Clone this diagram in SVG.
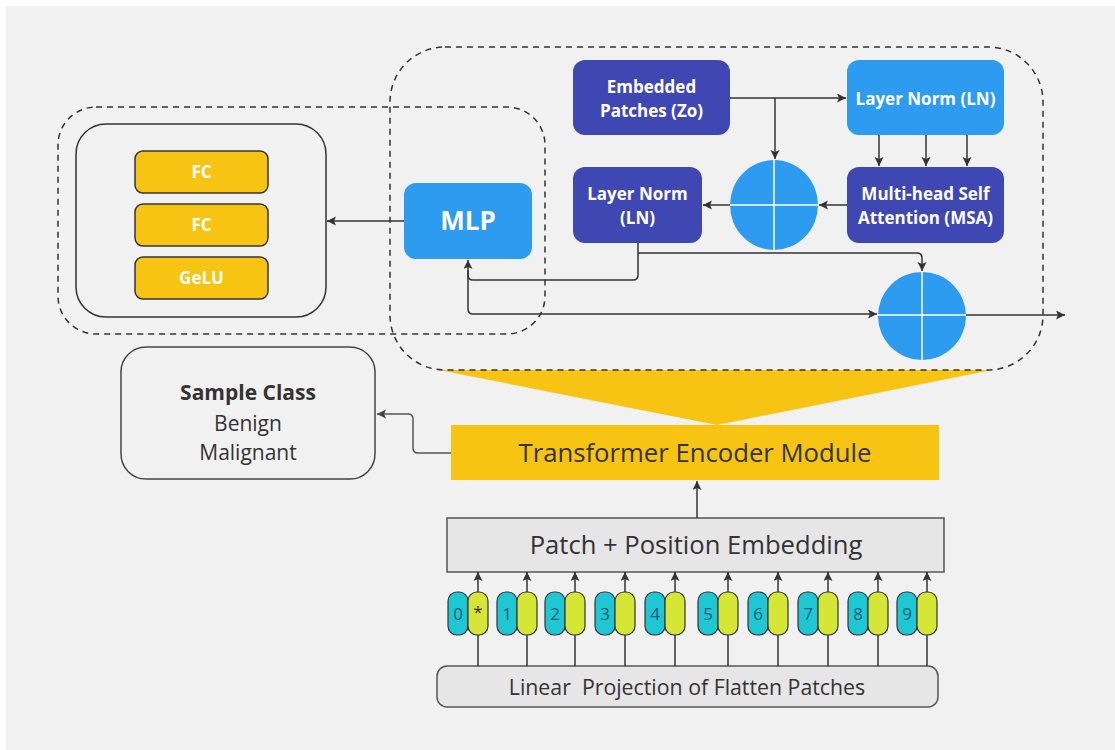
<svg xmlns="http://www.w3.org/2000/svg" width="1115" height="750" viewBox="0 0 1115 750">
<defs>
<marker id="ah" markerUnits="userSpaceOnUse" markerWidth="10" markerHeight="10" refX="9" refY="4.5" orient="auto">
<path d="M0,0 L9,4.5 L0,9 L2,4.5 z" fill="#333"/>
</marker>
<marker id="ah2" markerUnits="userSpaceOnUse" markerWidth="10" markerHeight="10" refX="9" refY="4.5" orient="auto">
<path d="M0,0 L9,4.5 L0,9 L2,4.5 z" fill="#444"/>
</marker>
</defs>
<style>
.dash{fill:none;stroke:#333;stroke-width:1.5;stroke-dasharray:6 5}
.ind{fill:#3f47b3}
.blu{fill:#2c9bf0}
.yel{fill:#f8c414}
.wt{font-family:"Open Sans","Liberation Sans",sans-serif;font-weight:bold;fill:#fff;text-anchor:middle}
.dk{font-family:"Open Sans","Liberation Sans",sans-serif;fill:#333;text-anchor:middle}
.ln{fill:none;stroke:#333;stroke-width:1.5}
.cross{stroke:#fff;stroke-width:1.5}
.cy{fill:#1fc6d3;stroke:#333;stroke-width:1.2}
.li{fill:#d5e637;stroke:#333;stroke-width:1.2}
.dg{font-family:"Open Sans","Liberation Sans",sans-serif;font-size:17px;fill:#1d5f72;text-anchor:middle}
</style>
<rect x="0" y="0" width="1115" height="750" fill="#fff"/>
<rect x="6" y="6" width="1109" height="744" fill="#f1f1f1"/>

<g id="encoder-detail-region">
<polygon points="439,370 992,370 717,425" class="yel"/>
<rect x="390" y="47" width="653" height="323" rx="55" class="dash"/>
</g>
<g id="mlp-region">
<rect x="58" y="107" width="487" height="227" rx="38" class="dash"/>
</g>

<g id="mlp-detail">
<rect x="76" y="124" width="250" height="193" rx="30" fill="none" stroke="#333" stroke-width="1.5"/>
</g>
<g id="fc1">
<rect x="135" y="151" width="133" height="42" rx="8" class="yel" stroke="#333" stroke-width="1.5"/>
<text x="201.5" y="178" class="wt" font-size="17">FC</text>
</g>
<g id="fc2">
<rect x="135" y="204" width="133" height="42" rx="8" class="yel" stroke="#333" stroke-width="1.5"/>
<text x="201.5" y="231" class="wt" font-size="17">FC</text>
</g>
<g id="gelu">
<rect x="135" y="257" width="133" height="42" rx="8" class="yel" stroke="#333" stroke-width="1.5"/>
<text x="201.5" y="284" class="wt" font-size="17">GeLU</text>
</g>

<g id="mlp">
<rect x="404" y="183" width="128" height="76" rx="12" class="blu"/>
<text x="468" y="230" class="wt" font-size="26">MLP</text>
</g>
<g id="embedded-patches">
<rect x="573" y="60" width="157" height="75" rx="12" class="ind"/>
<text x="651.5" y="93" class="wt" font-size="17">Embedded</text>
<text x="651.5" y="117" class="wt" font-size="17">Patches (Zo)</text>
</g>
<g id="layer-norm-top">
<rect x="847" y="60" width="157" height="75" rx="12" class="blu"/>
<text x="925.5" y="105" class="wt" font-size="17">Layer Norm (LN)</text>
</g>
<g id="msa">
<rect x="847" y="167" width="157" height="76" rx="12" class="ind"/>
<text x="925.5" y="200" class="wt" font-size="17">Multi-head Self</text>
<text x="925.5" y="224" class="wt" font-size="17">Attention (MSA)</text>
</g>
<g id="layer-norm-left">
<rect x="573" y="167" width="129" height="76" rx="12" class="ind"/>
<text x="637.5" y="200" class="wt" font-size="17">Layer Norm</text>
<text x="637.5" y="224" class="wt" font-size="17">(LN)</text>
</g>
<g id="add1">
<ellipse cx="774" cy="205" rx="44" ry="45" class="blu"/>
<line x1="774" y1="160" x2="774" y2="250" class="cross"/>
<line x1="730" y1="205" x2="818" y2="205" class="cross"/>
</g>
<g id="add2">
<ellipse cx="922" cy="316" rx="44" ry="44" class="blu"/>
<line x1="922" y1="272" x2="922" y2="360" class="cross"/>
<line x1="878" y1="315" x2="966" y2="315" class="cross"/>
</g>

<g id="sample-class">
<rect x="121" y="347" width="254" height="132" rx="25" fill="none" stroke="#444" stroke-width="1.5"/>
<text x="248" y="400" class="dk" font-size="21" font-weight="bold">Sample Class</text>
<text x="248" y="431" class="dk" font-size="21">Benign</text>
<text x="248" y="460" class="dk" font-size="21">Malignant</text>
</g>
<g id="transformer-encoder">
<rect x="451" y="425" width="488" height="55" class="yel"/>
<text x="695" y="462" class="dk" font-size="25.7">Transformer Encoder Module</text>
</g>
<g id="patch-position">
<rect x="447" y="518" width="497" height="54" fill="#e6e6e6" stroke="#555" stroke-width="1.5"/>
<text x="696" y="554" class="dk" font-size="25.6">Patch + Position Embedding</text>
</g>
<g id="linear-projection">
<rect x="437" y="666" width="501" height="41" rx="10" fill="#e6e6e6" stroke="#555" stroke-width="1.5"/>
<text x="687" y="695" class="dk" font-size="21.3" xml:space="preserve">Linear  Projection of Flatten Patches</text>
</g>

<g id="connectors">
<path d="M730,98 H846" class="ln" marker-end="url(#ah)"/>
<path d="M775,98 V159" class="ln" marker-end="url(#ah)"/>
<path d="M879,135 V166" class="ln" marker-end="url(#ah)"/>
<path d="M926,135 V166" class="ln" marker-end="url(#ah)"/>
<path d="M967,135 V166" class="ln" marker-end="url(#ah)"/>
<path d="M847,205 H819" class="ln" marker-end="url(#ah)"/>
<path d="M730,205 H703" class="ln" marker-end="url(#ah)"/>
<path d="M638,243 V275 Q638,280 633,280 H473 Q468,280 468,275 V260" class="ln" marker-end="url(#ah)"/>
<path d="M638,253 H917 Q922,253 922,258 V271" class="ln" marker-end="url(#ah)"/>
<path d="M468,270 V309 Q468,314 473,314 H877" class="ln" marker-end="url(#ah)"/>
<path d="M966,315 H1065" class="ln" marker-end="url(#ah)"/>
<path d="M404,221 H327" class="ln" marker-end="url(#ah)"/>
<path d="M451,453 H418 Q413,453 413,448 V419 Q413,414 408,414 H377" fill="none" stroke="#555" stroke-width="1.5" marker-end="url(#ah2)"/>
<path d="M697,518 V481" class="ln" marker-end="url(#ah)"/>
<path d="M478,666 V572" class="ln" marker-end="url(#ah)"/>
<path d="M527,666 V572" class="ln" marker-end="url(#ah)"/>
<path d="M575,666 V572" class="ln" marker-end="url(#ah)"/>
<path d="M625,666 V572" class="ln" marker-end="url(#ah)"/>
<path d="M675,666 V572" class="ln" marker-end="url(#ah)"/>
<path d="M728,666 V572" class="ln" marker-end="url(#ah)"/>
<path d="M778,666 V572" class="ln" marker-end="url(#ah)"/>
<path d="M828,666 V572" class="ln" marker-end="url(#ah)"/>
<path d="M878,666 V572" class="ln" marker-end="url(#ah)"/>
<path d="M927,666 V572" class="ln" marker-end="url(#ah)"/>
</g>

<g id="token-0"><rect x="448" y="592" width="20" height="43" rx="9" class="cy"/><rect x="468" y="592" width="20" height="43" rx="9" class="li"/><text x="458" y="620" class="dg">0</text><text x="478" y="618" class="dg" style="fill:#333">*</text></g>
<g id="token-1"><rect x="497" y="592" width="20" height="43" rx="9" class="cy"/><rect x="517" y="592" width="20" height="43" rx="9" class="li"/><text x="507" y="620" class="dg">1</text></g>
<g id="token-2"><rect x="545" y="592" width="20" height="43" rx="9" class="cy"/><rect x="565" y="592" width="20" height="43" rx="9" class="li"/><text x="555" y="620" class="dg">2</text></g>
<g id="token-3"><rect x="595" y="592" width="20" height="43" rx="9" class="cy"/><rect x="615" y="592" width="20" height="43" rx="9" class="li"/><text x="605" y="620" class="dg">3</text></g>
<g id="token-4"><rect x="645" y="592" width="20" height="43" rx="9" class="cy"/><rect x="665" y="592" width="20" height="43" rx="9" class="li"/><text x="655" y="620" class="dg">4</text></g>
<g id="token-5"><rect x="698" y="592" width="20" height="43" rx="9" class="cy"/><rect x="718" y="592" width="20" height="43" rx="9" class="li"/><text x="708" y="620" class="dg">5</text></g>
<g id="token-6"><rect x="748" y="592" width="20" height="43" rx="9" class="cy"/><rect x="768" y="592" width="20" height="43" rx="9" class="li"/><text x="758" y="620" class="dg">6</text></g>
<g id="token-7"><rect x="798" y="592" width="20" height="43" rx="9" class="cy"/><rect x="818" y="592" width="20" height="43" rx="9" class="li"/><text x="808" y="620" class="dg">7</text></g>
<g id="token-8"><rect x="848" y="592" width="20" height="43" rx="9" class="cy"/><rect x="868" y="592" width="20" height="43" rx="9" class="li"/><text x="858" y="620" class="dg">8</text></g>
<g id="token-9"><rect x="897" y="592" width="20" height="43" rx="9" class="cy"/><rect x="917" y="592" width="20" height="43" rx="9" class="li"/><text x="907" y="620" class="dg">9</text></g>
</svg>
